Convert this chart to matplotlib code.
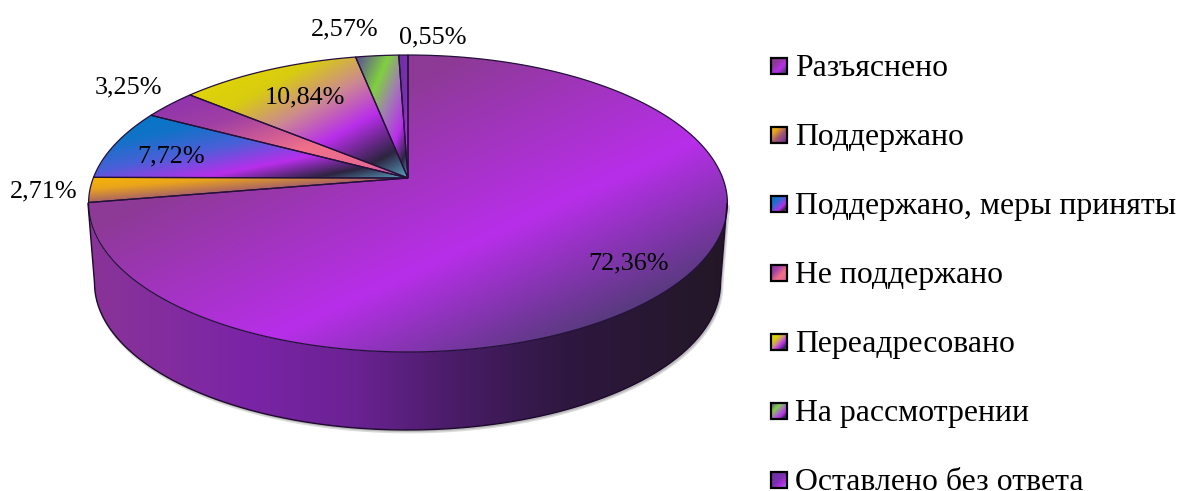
import numpy as np
import matplotlib
matplotlib.use('Agg')
import matplotlib.pyplot as plt
from matplotlib.colors import LinearSegmentedColormap
from matplotlib.patches import Polygon, Rectangle

plt.rcParams['font.family'] = ['Liberation Serif', 'DejaVu Serif']

# data
categories = ['Разъяснено', 'Поддержано', 'Поддержано, меры приняты', 'Не поддержано',
              'Переадресовано', 'На рассмотрении', 'Оставлено без ответа']
values = [72.36, 2.71, 7.72, 3.25, 10.84, 2.57, 0.55]

# gradient stops of each slice
bright = '#b82eea'
dark = '#2c2440'
teal = '#5aa6c4'
stops = [
    [(0, '#8a3c8c'), (0.3, '#8e3a98'), (0.62, bright), (0.85, '#5a3a80'), (1, '#3a2a50')],
    [(0, '#f8b800'), (0.25, '#eaa41c'), (0.55, '#a05a70'), (0.78, '#8a3c90'), (1, '#4a2a68')],
    [(0, '#0078c4'), (0.25, '#1272c8'), (0.45, '#4a60d8'), (0.67, bright), (0.85, dark), (1, teal)],
    [(0, '#8c2fb0'), (0.3, '#a040a4'), (0.62, '#f0708a'), (0.85, '#e86a90'), (1, '#b850b0')],
    [(0, '#e8dc00'), (0.3, '#d8cc10'), (0.48, '#cc8a90'), (0.66, bright), (0.86, dark), (1, teal)],
    [(0, '#5a4a9a'), (0.31, '#80d040'), (0.5, '#a080b0'), (0.72, bright), (0.87, dark), (1, teal)],
    [(0, '#6c30a0'), (0.5, '#7a30b0'), (0.75, bright), (1, teal)],
]
cmaps = [LinearSegmentedColormap.from_list(f's{i}', s) for i, s in enumerate(stops)]
side_cmap = LinearSegmentedColormap.from_list('side', [
    (0, '#8a3498'), (0.25, '#7a24a6'), (0.42, '#6a2292'), (0.58, '#481c66'),
    (0.75, '#2e1840'), (1, '#231726')])

# pie geometry, perspective projection of the unit disc
apex_x, apex_y = 408, 178
c, a, b = 314.7, 144.1, 0.1717
W, H = 1181, 491


def project(u, v):
    d = 1 + b * v
    return apex_x + c * u / d, apex_y - a * v / d


def diag_gradient():
    yy, xx = np.mgrid[0:1:300j, 0:1:300j]
    return (xx + yy) / 2


fig = plt.figure(figsize=(W / 100, H / 100), dpi=100)
ax = fig.add_axes([0, 0, 1, 1])

# side wall
th = np.linspace(-np.pi, 0, 200)
top_x, top_y = 407.5 + 319.5 * np.cos(th), 203.5 - 148.5 * np.sin(th)
bot_x, bot_y = 407.5 + 313 * np.cos(th), 283 - 147 * np.sin(th)
side_pts = np.r_[np.c_[top_x[:1], top_y[:1]], np.c_[bot_x, bot_y], np.c_[top_x[::-1], top_y[::-1]]]
ax.add_patch(Polygon(side_pts + [1.5, 2], closed=True, fc='#808080', ec='#b0b0b0', lw=2, alpha=0.45, zorder=-1))
side = Polygon(side_pts, closed=True, fc='none', ec='none', transform=ax.transData)
ax.add_patch(side)
im = ax.imshow(np.linspace(0, 1, 300)[None, :], cmap=side_cmap, aspect='auto', extent=[88, 727, 430, 55])
im.set_clip_path(side)
ax.plot(np.r_[top_x[0], bot_x, top_x[-1]], np.r_[top_y[0], bot_y, top_y[-1]], color='#1e0a2c', lw=1)

# top face
edges = np.r_[0, np.cumsum(values)] / np.sum(values) * 2 * np.pi
for i, v in enumerate(values):
    t = np.linspace(edges[i], edges[i + 1], 200)
    x, y = project(np.sin(t), np.cos(t))
    pts = np.r_[[[apex_x, apex_y]], np.c_[x, y]]
    wedge = Polygon(pts, closed=True, fc='none', ec='none', transform=ax.transData)
    ax.add_patch(wedge)
    im = ax.imshow(diag_gradient(), cmap=cmaps[i], vmin=0, vmax=1, aspect='auto',
                   extent=[pts[:, 0].min(), pts[:, 0].max(), pts[:, 1].max(), pts[:, 1].min()])
    im.set_clip_path(wedge)
    ax.add_patch(Polygon(pts, closed=True, fc='none', ec='#24103a', lw=0.9, joinstyle='miter'))

# value labels
label_xy = [(628, 263), (44, 191), (171, 156), (128, 87), (305, 97), (345, 29), (433, 37)]
for v, (lx, ly) in zip(values, label_xy):
    ax.text(lx, ly, f'{v:.2f}%'.replace('.', ','), fontsize=18.8, color='black', ha='center', va='center')

# legend
legend_y = [66, 135, 204, 273, 342, 411, 480]
for i, name in enumerate(categories):
    ly = legend_y[i]
    ax.imshow(diag_gradient(), cmap=cmaps[i], vmin=0, vmax=1, aspect='auto',
              extent=[771, 787, ly + 8, ly - 8])
    ax.add_patch(Rectangle((771, ly - 8), 16, 16, fc='none', ec='black', lw=1.6))
    ax.text(795, ly + 10, name, fontsize=22.9, color='black', ha='left', va='baseline')

ax.set_xlim(0, W)
ax.set_ylim(H, 0)
ax.axis('off')
fig.savefig('out.png', dpi=100)
